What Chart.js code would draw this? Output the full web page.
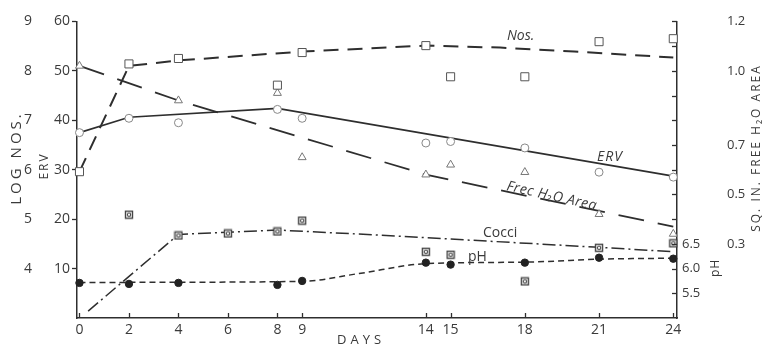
<!DOCTYPE html>
<html>
<head>
<meta charset="utf-8">
<script src="https://cdn.jsdelivr.net/npm/chart.js@4"></script>
<style>
  html, body { margin: 0; padding: 0; background: #fff; }
  #wrap { width: 770px; height: 349px; }
</style>
</head>
<body>
<div id="wrap"><canvas id="chart" width="770" height="349"></canvas></div>
<script>
// ── axis ticks ──
var dayTicks = [0, 2, 4, 6, 8, 9, 14, 15, 18, 21, 24];
var ervTicks = [10, 20, 30, 40, 50, 60];
var logTicks = [4, 5, 6, 7, 8, 9];
var phTicks = [5.5, 6.0, 6.5];
var areaTicks = [0.3, 0.5, 0.7, 1.0, 1.2];

// ── log numbers (squares) ──
var nosDays = [0, 2, 4, 8, 9, 14, 15, 18, 21, 24];
var nosLog = [5.96, 8.14, 8.25, 7.71, 8.37, 8.51, 7.88, 7.88, 8.59, 8.65];
var nosFitDays = [0, 2, 4, 9, 14, 17, 20, 24];
var nosFitLog = [5.96, 8.10, 8.21, 8.39, 8.51, 8.47, 8.39, 8.27];

// ── ERV (open circles) ──
var ervDays = [0, 2, 4, 8, 9, 14, 15, 18, 21, 24];
var ervValues = [37.5, 40.4, 39.5, 42.2, 40.4, 35.4, 35.7, 34.4, 29.5, 28.5];
var ervFitDays = [0, 2, 8, 24];
var ervFit = [37.5, 40.6, 42.4, 28.7];

// ── free H2O area, sq. in. (triangles) ──
var areaDays = [0, 4, 8, 9, 14, 15, 18, 21, 24];
var areaValues = [1.02, 0.88, 0.91, 0.65, 0.58, 0.62, 0.59, 0.42, 0.34];
var areaFitDays = [0, 4, 14, 24];
var areaFit = [1.02, 0.88, 0.58, 0.37];

// ── cocci ──
var cocciDays = [2, 4, 6, 8, 9, 14, 15, 18, 21, 24];
var cocciValues = [20.9, 16.7, 17.1, 17.5, 19.7, 13.4, 12.8, 7.4, 14.2, 15.1];
var cocciFitDays = [0.35, 4, 8, 12, 21, 24];
var cocciFit = [1.4, 16.9, 17.8, 16.8, 14.3, 13.4];

// ── pH (filled circles) ──
var phDays = [0, 2, 4, 8, 9, 14, 15, 18, 21, 24];
var phValues = [5.71, 5.69, 5.71, 5.67, 5.75, 6.12, 6.08, 6.12, 6.22, 6.20];
var phFitDays = [0, 9, 11.3, 14, 18, 21, 24];
var phFit = [5.72, 5.74, 5.90, 6.10, 6.13, 6.19, 6.21];

var FONT = "'Open Sans', 'DejaVu Sans', sans-serif";
var INK = '#2e2e2e';
var TXT = '#3a3a3a';

function pts(xs, ys) {
    return xs.map(function(x, i) { return { x: x, y: ys[i] }; });
}

function fixedTicks(list) {
    return function(scale) { scale.ticks = list.map(function(v) { return { value: v }; }); };
}

// small square with a ring inside, used for cocci
function cocciMarker() {
    var c = document.createElement('canvas');
    c.width = 10; c.height = 10;
    var g = c.getContext('2d');
    g.fillStyle = '#fff';
    g.fillRect(1, 1, 8, 8);
    g.strokeStyle = '#444';
    g.lineWidth = 1.4;
    g.strokeRect(1.5, 1.5, 7, 7);
    g.beginPath();
    g.arc(5, 5, 1.7, 0, Math.PI * 2);
    g.lineWidth = 1.1;
    g.stroke();
    return c;
}

function fitLine(data, axis, dash, width, smooth) {
    return {
        data: data, yAxisID: axis, showLine: true, pointRadius: 0,
        borderColor: INK, borderWidth: width, borderDash: dash,
        tension: 0, cubicInterpolationMode: smooth ? 'monotone' : 'default',
        order: 2, clip: false
    };
}

function marks(data, axis, style, radius, stroke, fill) {
    return {
        data: data, yAxisID: axis, showLine: false, pointStyle: style,
        pointRadius: radius, pointBorderColor: stroke, pointBackgroundColor: fill,
        pointBorderWidth: 1, order: 1, clip: false
    };
}

// titles, inner labels and inward tick marks
var annotPlugin = {
    id: 'annot',
    afterDraw: function(chart) {
        var ctx = chart.ctx;
        var area = chart.chartArea;
        var xs = chart.scales.x;
        var ya = chart.scales.yArea;

        ctx.save();
        ctx.strokeStyle = INK;
        ctx.lineWidth = 1.3;
        dayTicks.forEach(function(d) {
            var px = Math.round(xs.getPixelForValue(d)) + 0.5;
            ctx.beginPath(); ctx.moveTo(px, area.bottom); ctx.lineTo(px, area.bottom - 5); ctx.stroke();
        });
        for (var i = 1; i <= 12; i++) {
            var py = Math.round(ya.getPixelForValue(i / 10)) + 0.5;
            ctx.beginPath(); ctx.moveTo(area.right, py); ctx.lineTo(area.right - 5, py); ctx.stroke();
        }
        ctx.restore();

        function vtext(txt, x, y, size, spacing) {
            ctx.save();
            ctx.translate(x, y);
            ctx.rotate(-Math.PI / 2);
            ctx.font = size + 'px ' + FONT;
            ctx.letterSpacing = spacing + 'px';
            ctx.fillStyle = TXT;
            ctx.textAlign = 'center';
            ctx.textBaseline = 'middle';
            ctx.fillText(txt, 0, 0);
            ctx.restore();
        }
        function htext(txt, x, y, font, spacing, angle) {
            ctx.save();
            ctx.translate(x, y);
            ctx.rotate(angle || 0);
            ctx.font = font;
            ctx.letterSpacing = (spacing || 0) + 'px';
            ctx.fillStyle = TXT;
            ctx.textAlign = 'left';
            ctx.textBaseline = 'alphabetic';
            ctx.fillText(txt, 0, 0);
            ctx.restore();
        }

        vtext('LOG NOS.', 17, 158, 15, 3);
        vtext('ERV', 45, 166, 12, 2);
        vtext('pH', 716, 268, 12, 1);
        vtext('SQ. IN. FREE H\u2082O AREA', 757, 148, 12, 2);
        htext('DAYS', 337, 344, '13px ' + FONT, 4);

        htext('Nos.', 507, 40, 'italic 14px ' + FONT);
        htext('ERV', 597, 161, 'italic 14px ' + FONT, 1);
        htext('Frec H\u2082O Area', 506, 190, 'italic 14px ' + FONT, 0.5, Math.atan(0.224));
        htext('Cocci', 483, 237, '14px ' + FONT);
        htext('pH', 468, 261, '14px ' + FONT);
    }
};

var tickFont = { family: FONT, size: 14 };
var smallFont = { family: FONT, size: 13 };

new Chart(document.getElementById('chart').getContext('2d'), {
    type: 'scatter',
    data: {
        datasets: [
            marks(pts(nosDays, nosLog), 'yLog', 'rect', 5.7, '#555', '#fff'),
            marks(pts(ervDays, ervValues), 'y', 'circle', 4, '#888', '#fff'),
            marks(pts(areaDays, areaValues), 'yArea', 'triangle', 4.6, '#777', '#fff'),
            marks(pts(cocciDays, cocciValues), 'y', cocciMarker(), 5, '#333', '#fff'),
            marks(pts(phDays, phValues), 'yPH', 'circle', 3.7, '#222', '#222'),
            fitLine(pts(nosFitDays, nosFitLog), 'yLog', [15, 9], 2, false),
            fitLine(pts(ervFitDays, ervFit), 'y', [], 1.6, false),
            fitLine(pts(areaFitDays, areaFit), 'yArea', [26, 14], 1.8, false),
            fitLine(pts(cocciFitDays, cocciFit), 'y', [13, 4, 2, 4], 1.5, false),
            fitLine(pts(phFitDays, phFit), 'yPH', [6, 4], 1.5, true)
        ]
    },
    options: {
        responsive: false,
        animation: false,
        devicePixelRatio: 1,
        layout: { padding: { top: 12, left: 0, right: 0, bottom: 0 } },
        plugins: { legend: { display: false }, tooltip: { enabled: false } },
        scales: {
            x: {
                type: 'linear', min: -0.1, max: 24.15,
                afterBuildTicks: fixedTicks(dayTicks),
                afterFit: function(s) { s.height = 31; },
                grid: { display: false, drawTicks: false },
                border: { display: true, color: INK, width: 1.5 },
                ticks: { font: tickFont, color: TXT, padding: 4, autoSkip: false, maxRotation: 0 }
            },
            y: {
                position: 'left', weight: 0, min: 0, max: 60,
                afterBuildTicks: fixedTicks(ervTicks),
                afterFit: function(s) { s.width = 32; },
                grid: { drawOnChartArea: false, tickLength: 5, tickColor: INK, tickWidth: 1.3 },
                border: { display: true, color: INK, width: 1.5 },
                ticks: { font: tickFont, color: TXT, padding: 2 }
            },
            yLog: {
                position: 'left', weight: 1, min: 3, max: 9,
                afterBuildTicks: fixedTicks(logTicks),
                afterFit: function(s) { s.width = 45; },
                grid: { display: false, drawTicks: false },
                border: { display: false },
                ticks: { font: tickFont, color: TXT, padding: 13 }
            },
            yPH: {
                position: 'right', weight: 0, min: 5, max: 11,
                afterBuildTicks: fixedTicks(phTicks),
                afterFit: function(s) { s.width = 45; },
                grid: { display: false, drawTicks: false },
                border: { display: true, color: INK, width: 1.5 },
                ticks: { font: smallFont, color: TXT, padding: 5, callback: function(v) { return v.toFixed(1); } }
            },
            yArea: {
                position: 'right', weight: 1, min: 0, max: 1.2,
                afterBuildTicks: fixedTicks(areaTicks),
                afterFit: function(s) { s.width = 48; },
                grid: { display: false, drawTicks: false },
                border: { display: false },
                ticks: { font: smallFont, color: TXT, padding: 5, callback: function(v) { return v.toFixed(1); } }
            }
        }
    },
    plugins: [annotPlugin]
});
</script>
</body>
</html>
